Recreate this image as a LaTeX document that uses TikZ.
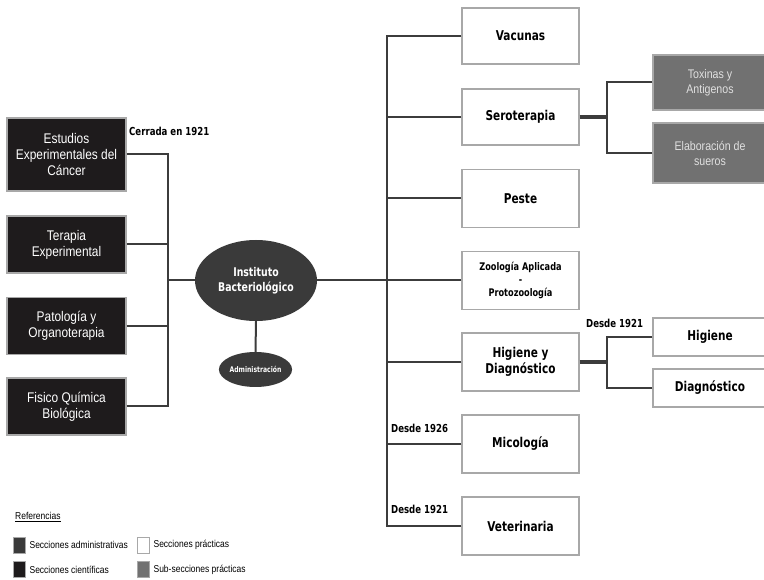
\documentclass[tikz,border=0pt]{standalone}
\usepackage{fontspec}
\setmainfont{Liberation Sans}[FakeStretch=0.85]
\newfontfamily\boldfont{DejaVu Sans}[FakeStretch=0.78]
\usetikzlibrary{positioning,shapes.geometric}
\definecolor{admin}{HTML}{3A3A3A}
\definecolor{cienc}{HTML}{1E1B1C}
\definecolor{subsec}{HTML}{717171}
\definecolor{borde}{HTML}{A8A8A8}
\definecolor{linea}{HTML}{3C3C3C}

\begin{document}
\begin{tikzpicture}
		[x=1pt,y=-1pt,
		cien/.style={draw=borde,line width=1.2pt,fill=cienc,text=white,inner sep=0pt,
			minimum width=119pt,minimum height=57pt,align=center,font=\fontsize{14}{16}\selectfont},
		prac/.style={draw=borde,line width=1.2pt,fill=white,inner sep=0pt,
			minimum width=117pt,minimum height=58pt,align=center,font=\boldfont\bfseries\fontsize{13.5}{16}\selectfont},
		subp/.style={draw=borde,line width=1.2pt,fill=subsec,text=white!88!black,inner sep=0pt,
			minimum width=114pt,align=center,font=\fontsize{12.5}{15}\selectfont},
		adm/.style={ellipse,fill=admin,text=white,inner sep=0pt,align=center},
		rama/.style={draw=linea,line width=2pt},
		grueso/.style={draw=linea,line width=3.2pt},
		nota/.style={anchor=west,inner sep=0pt,font=\boldfont\bfseries\fontsize{11}{12}\selectfont},
		caja/.style={draw=borde,line width=0.8pt,minimum width=12pt,minimum height=16pt,inner sep=0pt},
		leyenda/.style={anchor=west,inner sep=0pt,font=\fontsize{10}{11}\selectfont}]
		\useasboundingbox (0,0) rectangle (764,580);
		
		\node[adm,minimum width=122pt,minimum height=81pt,font=\boldfont\bfseries\fontsize{12}{15}\selectfont] (inst) at (256,280.5) {Instituto\\Bacteriológico};
		\node[adm,minimum width=73pt,minimum height=35pt,font=\boldfont\bfseries\fontsize{7.8}{9}\selectfont] (admi) at (255.5,369.5) {Administración};
		
		\node[cien,minimum height=73pt] (c1) at (66.5,154.5) {Estudios\\Experimentales del\\Cáncer};
		\node[cien] (c2) at (66.5,244.5) {Terapia\\Experimental};
		\node[cien] (c3) at (66.5,326) {Patología y\\Organoterapia};
		\node[cien] (c4) at (66.5,406.5) {Fisico Química\\Biológica};
		
		\node[prac,minimum height=56pt] (vac) at (520.5,36) {Vacunas};
		\node[prac,minimum height=56pt] (sero) at (520.5,117) {Seroterapia};
		\node[prac] (peste) at (520.5,198.5) {Peste};
		\node[prac,font=\boldfont\bfseries\fontsize{10.5}{13}\selectfont] (zoo) at (520.5,280.5) {Zoología Aplicada\\-\\Protozoología};
		\node[prac] (hig) at (520.5,362) {Higiene y\\Diagnóstico};
		\node[prac] (mic) at (520.5,444) {Micología};
		\node[prac] (vet) at (520.5,526) {Veterinaria};
		
		\node[subp,minimum height=55pt] (tox) at (710,82.5) {Toxinas y\\Antigenos};
		\node[subp,minimum height=60pt] (elab) at (710,153) {Elaboración de\\sueros};
		\node[prac,minimum width=114pt,minimum height=38pt] (higi) at (710,337) {Higiene};
		\node[prac,minimum width=114pt,minimum height=38pt] (diag) at (710,388) {Diagnóstico};
		
		\coordinate (lb) at (168,280.5);
		\coordinate (rb) at (387,280.5);
		\coordinate (sb) at (607,117);
		\coordinate (hb) at (607,362);
		
		\draw[rama] (inst.west) -- (lb);
		\foreach \c in {c1,c2,c3,c4}
		\draw[rama] (\c.east) -| (lb);
		\draw[rama] (inst.south) -- (admi.north);
		\draw[rama] (inst.east) -- (rb);
		\foreach \p in {vac,sero,peste,zoo,hig,mic,vet}
		\draw[rama] (\p.west) -| (rb);
		
		\draw[grueso] (sero.east) -- (sb);
		\draw[rama] (tox.west) -| (sb);
		\draw[rama] (elab.west) -| (sb);
		\draw[grueso] (hig.east) -- (hb);
		\draw[rama] (higi.west) -| (hb);
		\draw[rama] (diag.west) -| (hb);
		
		\node[nota] (n1) at (129,131) {Cerrada en 1921};
		\node[nota] (n2) at (586,323) {Desde 1921};
		\node[nota] (n3) at (391,428) {Desde 1926};
		\node[nota] (n4) at (391,509) {Desde 1921};
		
		\node[leyenda] (ref) at (15,517) {\underline{Referencias}};
		\node[caja,fill=admin] (l1) at (19,545) {};
		\node[caja,fill=cienc] (l2) at (19,569.5) {};
		\node[caja,fill=white] (l3) at (143,545) {};
		\node[caja,fill=subsec] (l4) at (143,569.5) {};
		\node[leyenda,right=4pt of l1] (t1) {Secciones administrativas};
		\node[leyenda,right=4pt of l2] (t2) {Secciones científicas};
		\node[leyenda,right=4pt of l3] (t3) {Secciones prácticas};
		\node[leyenda,right=4pt of l4] (t4) {Sub-secciones prácticas};
		\end{tikzpicture}
\end{document}
